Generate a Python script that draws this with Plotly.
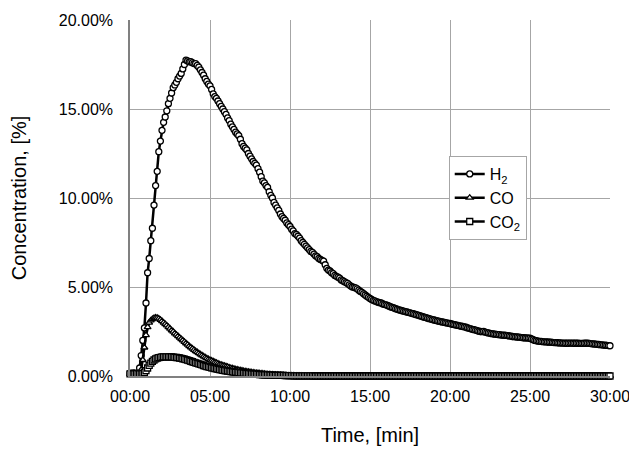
import plotly.graph_objects as go

# Sampling: one reading every 6 s (0.1 min), 0 .. 30 min
SAMPLE_STEP_MIN = 0.1
N_SAMPLES = 301
time_min = [round(i * SAMPLE_STEP_MIN, 1) for i in range(N_SAMPLES)]

x_tick_vals = [0, 5, 10, 15, 20, 25, 30]
x_tick_text = ["00:00", "05:00", "10:00", "15:00", "20:00", "25:00", "30:00"]
y_tick_vals = [0, 5, 10, 15, 20]
y_tick_text = ["0.00%", "5.00%", "10.00%", "15.00%", "20.00%"]

# Concentrations in percent
h2 = [
    0.16, 0.15, 0.17, 0.16, 0.15, 0.18, 0.45, 1.15, 2.0, 2.7,
    4.1, 5.8, 6.6, 7.6, 8.3, 9.6, 10.7, 11.5, 12.6, 13.2,
    13.8, 14.25, 14.55, 14.9, 15.3, 15.6, 15.9, 16.2, 16.35, 16.5,
    16.7, 16.85, 17.0, 17.25, 17.5, 17.75, 17.7, 17.65, 17.66, 17.6,
    17.55, 17.55, 17.45, 17.35, 17.2, 17.05, 16.9, 16.7, 16.55, 16.4,
    16.3, 16.1, 15.85, 15.7, 15.6, 15.45, 15.3, 15.15, 15.0, 14.85,
    14.7, 14.5, 14.35, 14.15, 14.0, 13.85, 13.7, 13.6, 13.5, 13.3,
    13.05, 12.9, 12.8, 12.7, 12.5, 12.35, 12.2, 12.05, 11.95, 11.85,
    11.65, 11.45, 11.2, 10.95, 10.85, 10.7, 10.6, 10.35, 10.15, 10.0,
    9.75, 9.6, 9.45, 9.3, 9.1, 8.95, 8.85, 8.75, 8.6, 8.5,
    8.4, 8.25, 8.15, 8.0, 7.95, 7.85, 7.75, 7.6, 7.5, 7.4,
    7.3, 7.2, 7.1, 7.0, 6.95, 6.85, 6.75, 6.7, 6.6, 6.55,
    6.5, 6.45, 6.25, 6.05, 5.95, 5.9, 5.8, 5.75, 5.65, 5.6,
    5.55, 5.5, 5.4, 5.35, 5.3, 5.25, 5.2, 5.12, 5.05, 5.0,
    4.98, 4.95, 4.9, 4.82, 4.75, 4.7, 4.62, 4.55, 4.48, 4.42,
    4.36, 4.3, 4.25, 4.22, 4.18, 4.15, 4.12, 4.1, 4.05, 4.02,
    4.0, 3.96, 3.92, 3.88, 3.85, 3.82, 3.78, 3.75, 3.72, 3.7,
    3.67, 3.64, 3.62, 3.6, 3.57, 3.55, 3.52, 3.5, 3.47, 3.44,
    3.42, 3.39, 3.36, 3.33, 3.3, 3.28, 3.25, 3.22, 3.2, 3.17,
    3.15, 3.12, 3.1, 3.08, 3.06, 3.04, 3.02, 3.0, 2.98, 2.96,
    2.95, 2.92, 2.9, 2.88, 2.86, 2.84, 2.82, 2.8, 2.78, 2.76,
    2.74, 2.7, 2.68, 2.65, 2.62, 2.6, 2.58, 2.55, 2.52, 2.5,
    2.49, 2.5, 2.47, 2.44, 2.42, 2.4, 2.38, 2.37, 2.35, 2.34,
    2.33, 2.32, 2.3, 2.3, 2.29, 2.28, 2.27, 2.25, 2.24, 2.22,
    2.21, 2.2, 2.19, 2.18, 2.17, 2.16, 2.15, 2.14, 2.14, 2.13,
    2.12, 2.08, 2.04, 2.0, 1.98, 1.96, 1.95, 1.94, 1.93, 1.92,
    1.92, 1.91, 1.9, 1.9, 1.89, 1.88, 1.88, 1.87, 1.86, 1.86,
    1.85, 1.85, 1.84, 1.84, 1.84, 1.85, 1.85, 1.84, 1.84, 1.84,
    1.84, 1.83, 1.83, 1.83, 1.84, 1.84, 1.84, 1.83, 1.82, 1.81,
    1.8, 1.79, 1.78, 1.77, 1.76, 1.75, 1.74, 1.73, 1.72, 1.71,
    1.70,
]

co = [
    0.1, 0.11, 0.1, 0.12, 0.1, 0.11, 0.12, 0.35, 0.9, 1.6,
    2.3, 2.75, 3.0, 3.12, 3.2, 3.26, 3.28, 3.27, 3.22, 3.16,
    3.08, 3.0, 2.92, 2.84, 2.75, 2.66, 2.57, 2.49, 2.4, 2.32,
    2.24, 2.16, 2.08, 2.0, 1.92, 1.84, 1.76, 1.68, 1.61, 1.54,
    1.47, 1.4, 1.34, 1.28, 1.22, 1.16, 1.1, 1.05, 1.0, 0.95,
    0.9, 0.86, 0.82, 0.78, 0.74, 0.7, 0.66, 0.63, 0.6, 0.57,
    0.54, 0.51, 0.48, 0.45, 0.43, 0.4, 0.38, 0.36, 0.34, 0.32,
    0.3, 0.28, 0.26, 0.25, 0.23, 0.22, 0.2, 0.19, 0.18, 0.17,
    0.16, 0.15, 0.14, 0.13, 0.12, 0.11, 0.1, 0.09, 0.08, 0.08,
    0.07, 0.06, 0.06, 0.05, 0.05, 0.04, 0.04, 0.03, 0.03, 0.03,
    0.02, 0.02, 0.02, 0.01, 0.01, 0.01, 0.01, 0.01, 0.0, 0.0,
    0, 0, 0, 0, 0, 0, 0, 0, 0, 0,
    0, 0, 0, 0, 0, 0, 0, 0, 0, 0,
    0, 0, 0, 0, 0, 0, 0, 0, 0, 0,
    0, 0, 0, 0, 0, 0, 0, 0, 0, 0,
    0, 0, 0, 0, 0, 0, 0, 0, 0, 0,
    0, 0, 0, 0, 0, 0, 0, 0, 0, 0,
    0, 0, 0, 0, 0, 0, 0, 0, 0, 0,
    0, 0, 0, 0, 0, 0, 0, 0, 0, 0,
    0, 0, 0, 0, 0, 0, 0, 0, 0, 0,
    0, 0, 0, 0, 0, 0, 0, 0, 0, 0,
    0, 0, 0, 0, 0, 0, 0, 0, 0, 0,
    0, 0, 0, 0, 0, 0, 0, 0, 0, 0,
    0, 0, 0, 0, 0, 0, 0, 0, 0, 0,
    0, 0, 0, 0, 0, 0, 0, 0, 0, 0,
    0, 0, 0, 0, 0, 0, 0, 0, 0, 0,
    0, 0, 0, 0, 0, 0, 0, 0, 0, 0,
    0, 0, 0, 0, 0, 0, 0, 0, 0, 0,
    0, 0, 0, 0, 0, 0, 0, 0, 0, 0,
    0, 0, 0, 0, 0, 0, 0, 0, 0, 0,
    0,
]

co2 = [
    0.12, 0.13, 0.12, 0.12, 0.13, 0.12, 0.12, 0.12, 0.14, 0.2,
    0.3, 0.45, 0.6, 0.72, 0.82, 0.9, 0.96, 1.0, 1.03, 1.05,
    1.07, 1.08, 1.08, 1.08, 1.08, 1.07, 1.07, 1.06, 1.05, 1.04,
    1.03, 1.01, 0.99, 0.97, 0.95, 0.92, 0.89, 0.86, 0.83, 0.8,
    0.77, 0.74, 0.71, 0.68, 0.65, 0.62, 0.59, 0.56, 0.53, 0.51,
    0.48, 0.46, 0.44, 0.42, 0.4, 0.38, 0.36, 0.34, 0.32, 0.31,
    0.29, 0.28, 0.26, 0.25, 0.24, 0.22, 0.21, 0.2, 0.19, 0.18,
    0.17, 0.16, 0.15, 0.14, 0.13, 0.12, 0.12, 0.11, 0.1, 0.1,
    0.09, 0.08, 0.08, 0.07, 0.07, 0.06, 0.06, 0.05, 0.05, 0.05,
    0.04, 0.04, 0.04, 0.03, 0.03, 0.03, 0.03, 0.02, 0.02, 0.02,
    0.02, 0.02, 0.01, 0.01, 0.01, 0.01, 0.01, 0.01, 0.01, 0.01,
    0.01, 0.01, 0.01, 0.01, 0.01, 0, 0, 0, 0, 0,
    0, 0, 0, 0, 0, 0, 0, 0, 0, 0,
    0, 0, 0, 0, 0, 0, 0, 0, 0, 0,
    0, 0, 0, 0, 0, 0, 0, 0, 0, 0,
    0, 0, 0, 0, 0, 0, 0, 0, 0, 0,
    0, 0, 0, 0, 0, 0, 0, 0, 0, 0,
    0, 0, 0, 0, 0, 0, 0, 0, 0, 0,
    0, 0, 0, 0, 0, 0, 0, 0, 0, 0,
    0, 0, 0, 0, 0, 0, 0, 0, 0, 0,
    0, 0, 0, 0, 0, 0, 0, 0, 0, 0,
    0, 0, 0, 0, 0, 0, 0, 0, 0, 0,
    0, 0, 0, 0, 0, 0, 0, 0, 0, 0,
    0, 0, 0, 0, 0, 0, 0, 0, 0, 0,
    0, 0, 0, 0, 0, 0, 0, 0, 0, 0,
    0, 0, 0, 0, 0, 0, 0, 0, 0, 0,
    0, 0, 0, 0, 0, 0, 0, 0, 0, 0,
    0, 0, 0, 0, 0, 0, 0, 0, 0, 0,
    0, 0, 0, 0, 0, 0, 0, 0, 0, 0,
    0, 0, 0, 0, 0, 0, 0, 0, 0, 0,
    0,
]

series = [
    ("H<sub>2</sub>", h2, "circle"),
    ("CO", co, "triangle-up"),
    ("CO<sub>2</sub>", co2, "square"),
]

FONT = "Liberation Sans, Arial, sans-serif"

fig = go.Figure()
for name, vals, sym in series:
    fig.add_trace(go.Scatter(
        x=time_min[:len(vals)], y=vals, name=name, mode="lines+markers",
        line=dict(color="black", width=2.5),
        marker=dict(symbol=sym, size=6, color="white",
                    line=dict(color="black", width=1.3)),
        cliponaxis=False,
    ))

# page body adds an 8 px margin, so the figure is sized to fit inside it
fig.update_layout(
    width=629, height=442,
    margin=dict(l=122, r=27, t=12, b=74),
    paper_bgcolor="white", plot_bgcolor="white",
    font=dict(family=FONT, color="black", size=16),
    showlegend=True,
    legend=dict(
        x=0.664, y=0.618, xanchor="left", yanchor="top",
        bgcolor="white", bordercolor="#a6a6a6", borderwidth=1,
        font=dict(size=16, family=FONT), tracegroupgap=0,
        itemwidth=30,
    ),
)
fig.update_xaxes(
    range=[0, 30], tickvals=x_tick_vals, ticktext=x_tick_text,
    showgrid=True, gridcolor="#a6a6a6", gridwidth=1,
    showline=True, linecolor="#808080", linewidth=1.5,
    ticks="", tickfont=dict(size=16), zeroline=False, automargin=False,
    ticklabelstandoff=5,
    title=dict(text="Time, [min]", font=dict(size=20), standoff=24),
)
fig.update_yaxes(
    range=[0, 20], tickvals=y_tick_vals, ticktext=y_tick_text,
    showgrid=True, gridcolor="#a6a6a6", gridwidth=1,
    showline=True, linecolor="#808080", linewidth=1.5,
    ticks="", tickfont=dict(size=16), zeroline=False, automargin=False,
    ticklabelstandoff=12,
    title=dict(text="Concentration, [%]", font=dict(size=20), standoff=35),
)

fig.write_html("out.html")
